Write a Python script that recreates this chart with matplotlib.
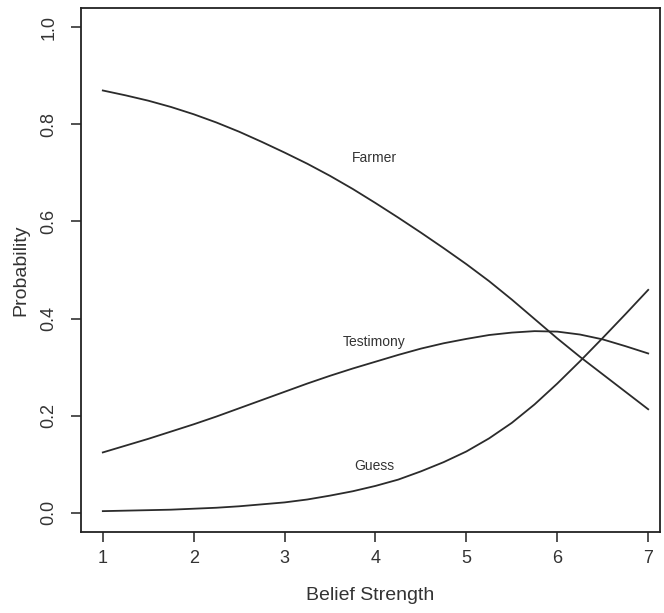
import numpy as np
import matplotlib
matplotlib.use('Agg')
import matplotlib.pyplot as plt

# belief strength grid and predicted probabilities
belief = [1.0, 1.25, 1.5, 1.75, 2.0, 2.25, 2.5, 2.75, 3.0, 3.25, 3.5, 3.75, 4.0,
          4.25, 4.5, 4.75, 5.0, 5.25, 5.5, 5.75, 6.0, 6.25, 6.5, 6.75, 7.0]
farmer = [0.870, 0.860, 0.849, 0.836, 0.821, 0.804, 0.785, 0.764, 0.742, 0.719,
          0.694, 0.667, 0.638, 0.608, 0.577, 0.545, 0.512, 0.477, 0.439, 0.399,
          0.359, 0.321, 0.285, 0.249, 0.213]
testimony = [0.124, 0.138, 0.152, 0.167, 0.182, 0.198, 0.215, 0.232, 0.249, 0.266,
             0.282, 0.297, 0.311, 0.325, 0.338, 0.349, 0.358, 0.366, 0.371, 0.374,
             0.373, 0.367, 0.357, 0.343, 0.328]
guess = [0.003, 0.004, 0.005, 0.006, 0.008, 0.010, 0.013, 0.017, 0.021, 0.027,
         0.035, 0.044, 0.055, 0.068, 0.085, 0.104, 0.126, 0.153, 0.185, 0.223,
         0.266, 0.312, 0.360, 0.409, 0.459]

labels = ['Farmer', 'Testimony', 'Guess']
label_x = [3.99, 3.99, 3.99]
label_y = [0.731, 0.351, 0.097]

plt.rcParams['font.family'] = ['Liberation Sans', 'DejaVu Sans']

fig = plt.figure(figsize=(6.64, 6.13), dpi=100)
ax = fig.add_axes([81 / 664, 1 - 532 / 613, (660 - 81) / 664, (532 - 8) / 613])

for series in (farmer, testimony, guess):
    ax.plot(belief, series, color='#2b2b2b', lw=1.3)

for lab, lx, ly in zip(labels, label_x, label_y):
    ax.text(lx, ly, lab, fontsize=10, color='#333333', ha='center', va='center')

ax.set_xlim(0.76, 7.13)
ax.set_ylim(-0.04, 1.04)
ax.set_xticks(range(1, 8))
ax.set_yticks([0.0, 0.2, 0.4, 0.6, 0.8, 1.0])
ax.set_yticklabels(['0.0', '0.2', '0.4', '0.6', '0.8', '1.0'], rotation=90, va='center')
ax.tick_params(direction='out', length=7, width=1.2, labelsize=13, colors='#333333')
ax.tick_params(axis='y', pad=10)
ax.tick_params(axis='x', pad=6)

for sp in ax.spines.values():
    sp.set_linewidth(1.3)
    sp.set_color('#222222')

ax.set_xlabel('Belief Strength', fontsize=14, color='#333333', labelpad=14)
ax.set_ylabel('Probability', fontsize=14, color='#333333', labelpad=8)

plt.savefig('out.png', dpi=100)
plt.close()
